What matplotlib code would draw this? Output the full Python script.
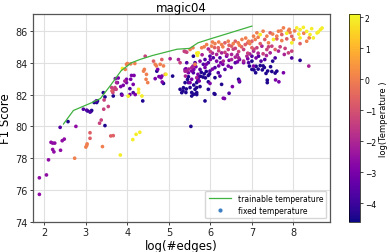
import numpy as np
import matplotlib
matplotlib.use("Agg")
import matplotlib.pyplot as plt
from matplotlib.lines import Line2D

# trainable temperature curve
line_x = [2.46, 2.70, 3.15, 3.35, 3.60, 3.85, 4.10, 4.30, 4.60, 4.90, 5.20, 5.50, 5.70, 6.00, 6.50, 7.00]
line_y = [80.15, 81.0, 81.5, 81.75, 82.6, 83.5, 84.0, 84.2, 84.45, 84.65, 84.85, 84.9, 85.25, 85.5, 85.9, 86.3]

# fixed temperature points, grouped by log(Temperature)
g_dark_c = -4.4
g_dark_x = [5.53, 3.46, 2.57, 3.04, 3.12, 3.14, 3.20, 3.28, 3.26, 3.42, 3.46, 3.66, 3.86, 4.37, 4.71, 4.87, 5.09,
            5.27, 5.31, 5.35, 5.34, 5.42, 5.41, 5.51, 5.55, 5.39, 5.47, 5.59, 5.63, 5.67, 5.55, 5.67, 5.67, 5.67,
            5.87, 6.11, 6.11, 6.27, 6.68, 6.70, 5.60, 5.95, 5.78, 5.85, 5.90, 5.82, 5.95, 5.88, 5.98, 5.76,
            7.09, 6.94, 7.10, 7.20, 7.27, 7.38, 7.34, 7.37, 7.37, 7.48, 7.56, 7.60, 7.00, 7.50, 8.16, 7.15,
            7.25, 7.30, 7.45, 7.05, 6.09, 7.00, 5.70, 5.95, 5.60, 5.75, 5.45]
g_dark_y = [80.0, 80.05, 80.3, 80.97, 80.94, 81.0, 81.5, 81.6, 81.5, 82.12, 81.85, 81.91, 82.02, 81.6, 83.47, 82.7, 83.16,
            82.33, 82.12, 82.43, 82.23, 82.35, 82.13, 82.44, 82.13, 82.75, 83.12, 84.41, 82.33, 82.12, 81.91, 82.75, 82.44, 82.0,
            81.6, 83.06, 82.02, 82.64, 82.96, 82.8, 82.02, 82.33, 83.4, 83.3, 83.45, 83.1, 83.2, 83.05, 83.3, 83.15,
            83.37, 83.79, 83.78, 83.82, 83.8, 83.48, 83.33, 82.91, 82.75, 83.45, 83.35, 83.47, 84.1, 84.1, 84.15, 83.6,
            83.55, 83.7, 83.75, 83.55, 82.06, 83.58, 82.9, 82.8, 82.6, 82.5, 82.95]

g_blue_c = -3.7
g_blue_x = [2.38, 2.94, 3.02, 3.10, 3.25, 4.06, 4.14, 5.47, 5.43, 5.63, 5.87, 5.95, 6.07, 5.99, 6.23, 5.83, 5.75,
            5.99, 6.11, 6.19, 6.35, 5.59, 5.71, 6.23, 6.60, 6.92, 7.22, 7.16, 7.00, 7.31, 7.56, 7.96, 6.45]
g_blue_y = [79.94, 81.08, 81.02, 80.9, 81.6, 82.37, 82.12, 82.75, 84.0, 84.0, 84.2, 84.0, 84.31, 84.41, 84.31, 83.9, 83.58,
            83.48, 83.69, 83.37, 83.58, 83.37, 83.06, 83.16, 84.0, 84.0, 84.1, 84.41, 84.41, 84.2, 84.3, 84.3, 82.08]

g_violet_c = -2.6
g_violet_x = [1.88, 1.88, 2.05, 2.10, 2.16, 2.20, 2.25, 2.20, 2.23, 2.39, 2.43, 2.48, 2.76]
g_violet_y = [75.73, 76.77, 76.95, 77.9, 79.0, 78.95, 78.95, 78.55, 78.4, 78.5, 79.1, 79.2, 80.0]

g_purple_c = -3.0
g_purple_x = [3.76, 3.78, 3.71, 3.84, 3.90, 3.98, 3.98, 4.08, 4.10, 4.16, 3.87, 4.06, 4.19, 4.14, 4.73, 4.76, 4.81,
              4.67, 4.84, 4.83, 5.55, 5.60, 5.41, 5.55, 5.70, 5.73, 5.51, 5.47, 5.39, 5.87, 6.43, 6.15, 6.39,
              7.04, 6.34, 6.53, 5.99, 7.57, 7.65, 7.76, 6.70, 6.80, 6.30, 6.50, 6.31, 6.70,
              5.75, 6.00, 6.25, 6.45, 6.65, 5.90, 6.20, 6.05, 5.65, 6.90, 7.10]
g_purple_y = [82.75, 83.04, 83.0, 82.5, 82.58, 82.75, 82.96, 82.96, 83.2, 83.2, 81.96, 82.0, 82.0, 82.64, 83.58, 83.13, 83.06,
              83.0, 82.79, 83.16, 83.48, 83.58, 83.62, 82.96, 83.27, 82.85, 82.75, 83.37, 83.58, 83.7, 83.79, 84.1, 84.41,
              83.79, 81.75, 82.5, 82.7, 82.92, 82.8, 83.37, 84.2, 84.0, 83.9, 83.7, 81.77, 82.85,
              84.1, 84.2, 84.0, 84.15, 84.05, 83.9, 83.8, 83.6, 83.75, 84.25, 84.3]

g_magenta_c = -2.1
g_magenta_x = [3.74, 3.94, 5.03, 5.23, 5.58, 5.39, 5.48, 5.67, 5.39, 5.95, 6.51, 6.27, 6.15, 6.31, 6.51, 6.68,
               6.80, 6.88, 5.55, 5.43, 5.40, 7.24, 7.64, 7.44, 7.04, 7.78, 8.37,
               6.05, 6.40, 6.65, 6.95, 7.15, 7.35, 5.80, 6.60]
g_magenta_y = [82.75, 82.85, 84.25, 84.2, 83.79, 83.47, 83.6, 83.06, 84.7, 84.86, 84.52, 84.62, 84.52, 84.1, 84.2, 84.31,
               84.1, 84.41, 83.69, 83.48, 83.16, 85.04, 84.73, 84.62, 84.73, 84.52, 83.79,
               84.6, 84.5, 84.5, 84.55, 84.6, 84.45, 84.5, 84.35]

g_pink_c = -1.4
g_pink_x = [3.33, 3.37, 3.43, 3.44, 3.54, 3.62, 3.66, 3.70, 3.65, 3.73, 4.43, 5.27, 5.37, 5.43, 6.43, 6.68, 6.80,
            7.12, 7.36, 7.48, 7.68, 7.27, 7.88, 7.96, 6.00, 6.60,
            6.20, 6.55, 6.90, 7.05, 7.40, 7.80, 6.35]
g_pink_y = [80.2, 80.4, 81.08, 81.66, 81.25, 82.44, 82.29, 82.44, 82.13, 82.33, 84.41, 84.0, 84.72, 84.66, 84.83, 84.7, 84.83,
            84.94, 84.83, 85.04, 85.0, 84.56, 84.62, 84.73, 84.7, 84.9,
            84.75, 84.85, 84.6, 84.85, 85.0, 84.9, 84.65]

g_salmon_c = -0.7
g_salmon_x = [3.10, 3.10, 3.63, 4.63, 4.83, 6.19, 6.35, 6.51, 6.60, 6.84, 7.00, 7.00, 7.31, 7.56, 7.72, 7.44, 7.84,
              7.96, 8.16, 3.60, 3.66, 6.45, 6.75, 6.90, 6.10, 7.20, 7.60]
g_salmon_y = [79.25, 79.6, 82.23, 84.1, 84.2, 84.94, 85.25, 85.04, 85.35, 85.14, 84.94, 85.35, 85.46, 84.83, 85.77, 85.88, 85.5,
              85.66, 85.2, 79.4, 79.42, 85.1, 85.0, 85.25, 84.95, 85.2, 85.5]

g_orange_c = 0.0
g_orange_x = [2.73, 3.00, 3.03, 3.02, 3.40, 3.98, 4.00, 4.08, 4.18, 3.95, 4.39, 4.41, 4.45, 4.49, 4.46, 4.67, 4.70,
              4.79, 4.87, 5.63, 5.58, 5.79, 5.51, 5.91, 6.03, 6.11, 6.27, 6.43, 6.67, 6.76, 6.92, 7.08, 7.04,
              7.12, 7.27, 7.36, 7.40, 7.60, 7.64, 7.72, 7.76, 7.88, 7.92, 8.03, 8.00, 8.25, 8.32, 8.38, 4.91,
              6.20, 6.55, 6.85, 6.30, 6.70, 6.95, 5.85, 6.05, 7.15, 7.50, 7.70, 7.90]
g_orange_y = [78.0, 78.7, 78.9, 78.8, 78.73, 83.9, 83.95, 83.93, 83.95, 83.58, 83.47, 83.58, 82.96, 82.75, 83.27, 83.9, 83.8,
              83.9, 83.8, 83.9, 84.94, 84.94, 84.83, 85.14, 85.04, 85.2, 85.14, 85.35, 85.25, 85.46, 85.35, 85.46, 85.67,
              85.88, 85.98, 85.67, 85.25, 85.67, 85.98, 85.39, 86.19, 86.0, 85.9, 86.0, 85.46, 85.85, 85.35, 85.56, 83.27,
              85.3, 85.2, 85.55, 85.0, 85.1, 85.2, 85.0, 85.3, 85.6, 85.8, 86.0, 86.1]

g_yellow_c = 1.9
g_yellow_x = [3.83, 4.13, 4.21, 4.30, 4.02, 4.27, 4.27, 4.35, 3.88, 5.67, 5.71, 5.69, 7.20, 7.52, 7.84, 7.96, 8.08,
              8.16, 8.24, 8.32, 8.44, 8.57, 8.65, 8.69, 8.60, 8.40, 8.13, 8.16, 8.48, 4.93]
g_yellow_y = [78.2, 79.17, 79.5, 79.63, 81.9, 82.33, 82.12, 81.91, 83.64, 84.6, 84.62, 84.46, 85.77, 85.46, 85.85, 85.25, 86.19,
              86.08, 86.22, 85.97, 86.14, 85.87, 86.08, 86.18, 85.93, 85.77, 85.8, 85.56, 85.56, 83.27]

groups = [
    (g_dark_x, g_dark_y, g_dark_c),
    (g_blue_x, g_blue_y, g_blue_c),
    (g_violet_x, g_violet_y, g_violet_c),
    (g_purple_x, g_purple_y, g_purple_c),
    (g_magenta_x, g_magenta_y, g_magenta_c),
    (g_pink_x, g_pink_y, g_pink_c),
    (g_salmon_x, g_salmon_y, g_salmon_c),
    (g_orange_x, g_orange_y, g_orange_c),
    (g_yellow_x, g_yellow_y, g_yellow_c),
]
xs, ys, cs = [], [], []
for gx, gy, gc in groups:
    n = min(len(gx), len(gy))
    xs += gx[:n]
    ys += gy[:n]
    cs += [gc] * n

fig = plt.figure(figsize=(3.9, 2.53), dpi=100)
ax = fig.add_axes([0.085, 0.119, 0.761, 0.821])
cax = fig.add_axes([0.895, 0.119, 0.028, 0.821])

ax.grid(True, color='#e0e0e0', linewidth=0.8, zorder=0)
ax.set_axisbelow(True)
sc = ax.scatter(xs, ys, c=cs, cmap='plasma', vmin=-4.6, vmax=2.1, s=7, linewidths=0, zorder=2)
ax.plot(line_x, line_y, color='#3fb23f', linewidth=0.9, zorder=3)

ax.set_xlim(1.73, 8.88)
ax.set_ylim(74, 87.05)
ax.set_xticks([2, 3, 4, 5, 6, 7, 8])
ax.set_yticks([74, 76, 78, 80, 82, 84, 86])
ax.tick_params(labelsize=7, length=2.5, width=0.6, pad=1.5, colors='#222222')
for sp in ax.spines.values():
    sp.set_color('#555555')
    sp.set_linewidth(0.9)
ax.set_xlabel('log(#edges)', fontsize=8.5, labelpad=1)
ax.set_ylabel('F1 Score', fontsize=8.5, labelpad=2)
ax.set_title('magic04', fontsize=8.5, pad=2)

handles = [Line2D([], [], color='#3fb23f', linewidth=0.9),
           Line2D([], [], linestyle='none', marker='o', markersize=2, color='#3d7fc4')]
ax.legend(handles, ['trainable temperature', 'fixed temperature'], loc='lower right',
          fontsize=5.5, handlelength=3, frameon=True, borderpad=0.4, labelspacing=0.4)

cb = fig.colorbar(sc, cax=cax)
cb.set_ticks([-4, -3, -2, -1, 0, 1, 2])
cb.ax.tick_params(labelsize=5.5, length=2, width=0.5, pad=1.5)
cb.set_label('log(Temperature )', fontsize=6, labelpad=2)
cb.outline.set_linewidth(0.5)

fig.savefig('out.png', dpi=100)
